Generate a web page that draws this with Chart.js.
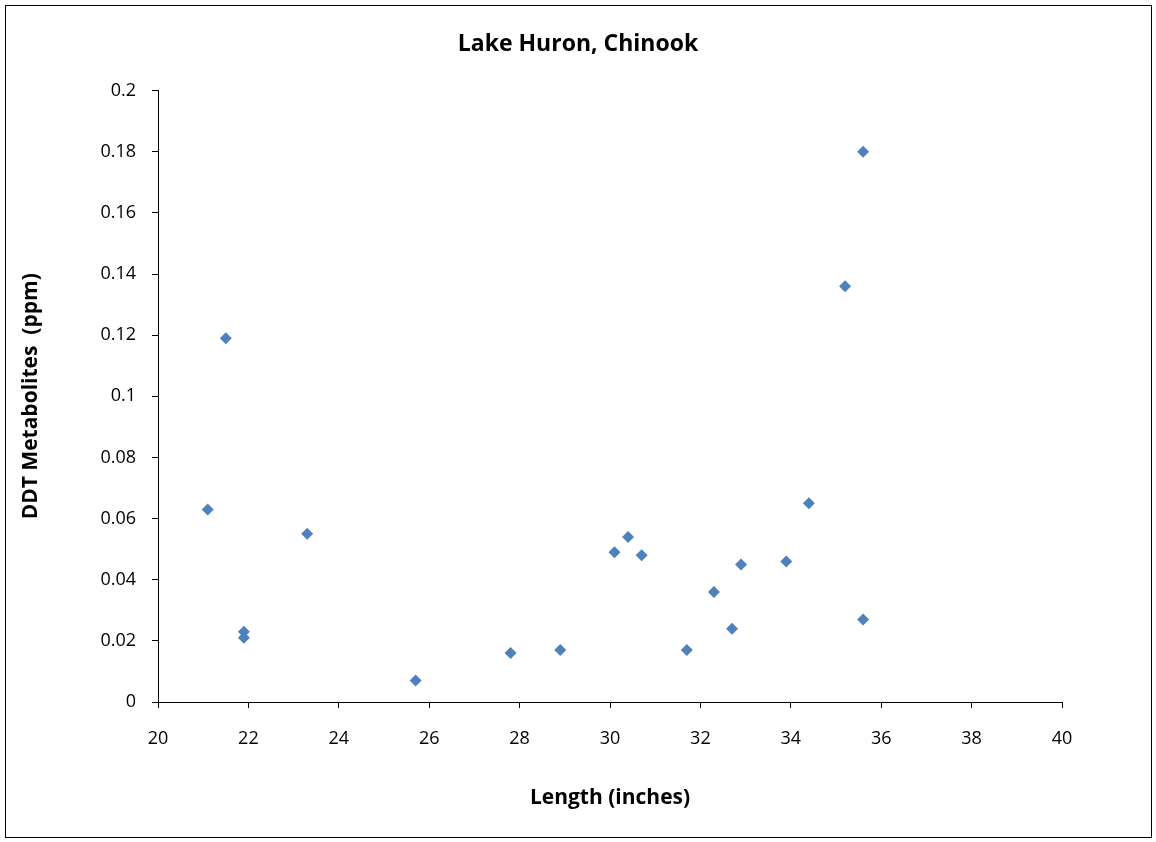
<!DOCTYPE html>
<html>
<head>
<meta charset="utf-8">
<script src="https://cdn.jsdelivr.net/npm/chart.js@4"></script>
<style>
  html, body { margin: 0; padding: 0; background: #fff; }
  #wrap { width: 1156px; height: 842px; }
</style>
</head>
<body>
<div id="wrap"><canvas id="chart" width="1156" height="842"></canvas></div>
<script>
// Data
const lengths = [21.1, 21.5, 21.9, 21.9, 23.3, 25.7, 27.8, 28.9, 30.1, 30.4, 30.7, 31.7, 32.3, 32.7, 32.9, 33.9, 34.4, 35.2, 35.6, 35.6];
const ddt = [0.063, 0.119, 0.023, 0.021, 0.055, 0.007, 0.016, 0.017, 0.049, 0.054, 0.048, 0.017, 0.036, 0.024, 0.045, 0.046, 0.065, 0.136, 0.180, 0.027];
const chartTitle = 'Lake Huron, Chinook';
const xTitle = 'Length (inches)';
const yTitle = 'DDT Metabolites  (ppm)';

const points = lengths.map((x, i) => ({ x: x, y: ddt[i] }));

const fontFamily = "'Open Sans', 'Liberation Sans', sans-serif";

// outer frame round the whole chart
const framePlugin = {
  id: 'frame',
  afterDraw(chart) {
    const ctx = chart.ctx;
    ctx.save();
    ctx.strokeStyle = '#000';
    ctx.lineWidth = 1;
    ctx.strokeRect(5.5, 5.5, 1146, 832);
    ctx.restore();
  }
};

const ctx = document.getElementById('chart').getContext('2d');
new Chart(ctx, {
  type: 'scatter',
  data: {
    datasets: [{
      data: points,
      pointStyle: 'rectRot',
      pointRadius: 6,
      pointHoverRadius: 6,
      backgroundColor: '#4F81BD',
      borderColor: '#4F81BD',
      borderWidth: 0
    }]
  },
  options: {
    responsive: false,
    animation: false,
    layout: { padding: { top: 3, right: 0, bottom: 0, left: 0 } },
    plugins: {
      legend: { display: false },
      tooltip: { enabled: false },
      title: {
        display: true,
        text: chartTitle,
        color: '#000',
        font: { family: fontFamily, size: 23, weight: 'bold' },
        padding: { top: 28, bottom: 32 }
      }
    },
    scales: {
      x: {
        type: 'linear',
        min: 20,
        max: 40,
        afterFit(scale) { scale.height = 140; },
        border: { display: true, color: '#000', width: 1 },
        grid: { display: true, drawOnChartArea: false, drawTicks: true, tickLength: 6, color: '#000' },
        ticks: { stepSize: 2, color: '#000', padding: 20, font: { family: fontFamily, size: 18 } },
        title: {
          display: true, text: xTitle, color: '#000',
          font: { family: fontFamily, size: 21, weight: 'bold' },
          padding: { top: 0, bottom: 31 }
        }
      },
      y: {
        type: 'linear',
        min: 0,
        max: 0.2,
        afterFit(scale) { scale.width = 158; },
        border: { display: true, color: '#000', width: 1 },
        grid: { display: true, drawOnChartArea: false, drawTicks: true, tickLength: 6, color: '#000' },
        ticks: {
          stepSize: 0.02, color: '#000', padding: 16,
          font: { family: fontFamily, size: 18 },
          callback: (v) => +v.toFixed(2)
        },
        title: {
          display: true, text: yTitle, color: '#000',
          font: { family: fontFamily, size: 21, weight: 'bold' },
          padding: { top: 18, bottom: 0 }
        }
      },
      // empty right-hand gutter so the title centres on the whole chart
      gutter: {
        type: 'linear',
        position: 'right',
        display: true,
        afterFit(scale) { scale.width = 94; },
        border: { display: false },
        grid: { display: false },
        ticks: { display: false }
      }
    }
  },
  plugins: [framePlugin]
});
</script>
</body>
</html>
